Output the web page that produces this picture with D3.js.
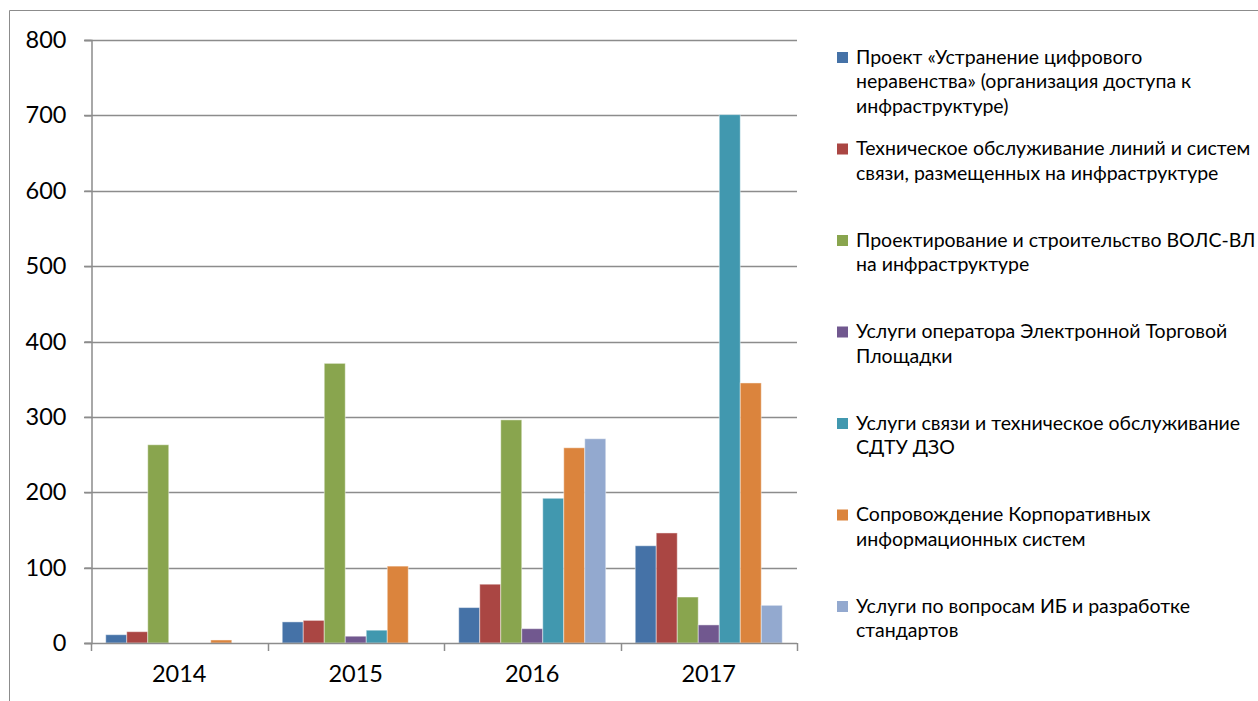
<!DOCTYPE html>
<html>
<head>
<meta charset="utf-8">
<script src="https://cdn.jsdelivr.net/npm/d3@7"></script>
<style>
  body { margin: 0; background: #fff; }
  svg { display: block; font-family: Lato, "Open Sans", sans-serif; }
</style>
</head>
<body>
<svg id="chart" width="1258" height="701"></svg>
<script>
var years = ["2014", "2015", "2016", "2017"];
var seriesNames = [
    ["Проект «Устранение цифрового", "неравенства» (организация доступа к", "инфраструктуре)"],
    ["Техническое обслуживание линий и систем", "связи, размещенных на инфраструктуре"],
    ["Проектирование и строительство ВОЛС-ВЛ", "на инфраструктуре"],
    ["Услуги оператора Электронной Торговой", "Площадки"],
    ["Услуги связи и техническое обслуживание", "СДТУ ДЗО"],
    ["Сопровождение Корпоративных", "информационных систем"],
    ["Услуги по вопросам ИБ и разработке", "стандартов"]
];
var seriesColors = ["#4572A7", "#AA4643", "#89A54E", "#71588F", "#4198AF", "#DB843D", "#93A9CF"];
// one array per series, values for 2014..2017
var digitalDivide = [11, 28, 47, 129];
var lineMaintenance = [15, 30, 78, 146];
var fiberConstruction = [263, 371, 296, 61];
var tradingPlatform = [0, 9, 19, 24];
var commServices = [0, 17, 192, 701];
var corporateSystems = [4, 102, 259, 345];
var securityServices = [0, 0, 271, 50];
var seriesValues = [digitalDivide, lineMaintenance, fiberConstruction, tradingPlatform,
    commServices, corporateSystems, securityServices];
var yTicks = [0, 100, 200, 300, 400, 500, 600, 700, 800];

var svg = d3.select("#chart");
var gridColor = "#8c8c8c";

// outer frame
svg.append("path")
    .attr("d", "M9.5,701 V10.5 H1258")
    .attr("fill", "none")
    .attr("stroke", gridColor)
    .attr("stroke-width", 1);

var plotLeft = 91, plotRight = 797, plotTop = 40, plotBottom = 643;

var y = d3.scaleLinear().domain([0, 800]).range([plotBottom, plotTop]);
var x0 = d3.scaleBand().domain(years).range([plotLeft, plotRight]);
var gap = x0.bandwidth() * 0.167;
var x1 = d3.scaleBand().domain(d3.range(seriesValues.length))
    .range([gap / 2, x0.bandwidth() - gap / 2]);

// gridlines
svg.append("g").selectAll("line")
    .data(yTicks.filter(function (d) { return d > 0; }))
    .enter().append("line")
    .attr("x1", plotLeft - 7).attr("x2", plotRight)
    .attr("y1", function (d) { return Math.round(y(d)) + 0.5; })
    .attr("y2", function (d) { return Math.round(y(d)) + 0.5; })
    .attr("stroke", gridColor).attr("stroke-width", 1.5);

// bars
var groups = svg.append("g").selectAll("g")
    .data(seriesValues)
    .enter().append("g")
    .attr("fill", function (d, i) { return seriesColors[i]; });

groups.selectAll("rect")
    .data(function (vals, si) {
        return vals.map(function (v, yi) { return {series: si, year: years[yi], value: v}; });
    })
    .enter().append("rect")
    .attr("x", function (d) { return x0(d.year) + x1(d.series); })
    .attr("width", x1.bandwidth())
    .attr("y", function (d) { return y(d.value); })
    .attr("height", function (d) { return y(0) - y(d.value); })
    .attr("stroke", "#fff")
    .attr("stroke-opacity", function (d) { return d.value > 0 ? 0.45 : 0; })
    .attr("stroke-width", 1);

// y axis
var yAxis = svg.append("g")
    .attr("transform", "translate(" + (plotLeft + 0.5) + ",0)")
    .call(d3.axisLeft(y).tickValues(yTicks).tickSize(7).tickPadding(18));
yAxis.selectAll("line, path").attr("stroke", gridColor).attr("stroke-width", 1.5);
yAxis.selectAll("text").attr("font-size", 23.5).attr("fill", "#000")
    .attr("font-family", "Lato, sans-serif");

// x axis
var xAxis = svg.append("g")
    .attr("transform", "translate(0," + (plotBottom + 0.5) + ")")
    .call(d3.axisBottom(x0).tickSize(0).tickPadding(22));
xAxis.select("path").remove();
xAxis.selectAll("text").attr("font-size", 23.5).attr("fill", "#000")
    .attr("font-family", "Lato, sans-serif");
svg.append("line")
    .attr("x1", plotLeft - 7).attr("x2", plotRight)
    .attr("y1", plotBottom + 0.5).attr("y2", plotBottom + 0.5)
    .attr("stroke", gridColor).attr("stroke-width", 1.5);
svg.append("g").selectAll("line")
    .data(years.map(function (d) { return x0(d); }).concat([plotRight]))
    .enter().append("line")
    .attr("x1", function (d) { return Math.round(d) + 0.5; })
    .attr("x2", function (d) { return Math.round(d) + 0.5; })
    .attr("y1", plotBottom).attr("y2", plotBottom + 8)
    .attr("stroke", gridColor).attr("stroke-width", 1.5);

// legend
var legendY = d3.scalePoint().domain(d3.range(seriesNames.length)).range([57, 606]);
var legend = svg.append("g").selectAll("g")
    .data(seriesNames)
    .enter().append("g")
    .attr("transform", function (d, i) { return "translate(837," + legendY(i) + ")"; });

legend.append("rect")
    .attr("x", 0).attr("y", -5).attr("width", 11).attr("height", 11)
    .attr("fill", function (d, i) { return seriesColors[i]; });

legend.append("text")
    .attr("font-size", 19.5)
    .attr("fill", "#000")
    .selectAll("tspan")
    .data(function (d) { return d; })
    .enter().append("tspan")
    .attr("x", 19)
    .attr("y", function (d, i) { return i * 24.5; })
    .attr("dy", "0.35em")
    .text(function (d) { return d; });
</script>
</body>
</html>
